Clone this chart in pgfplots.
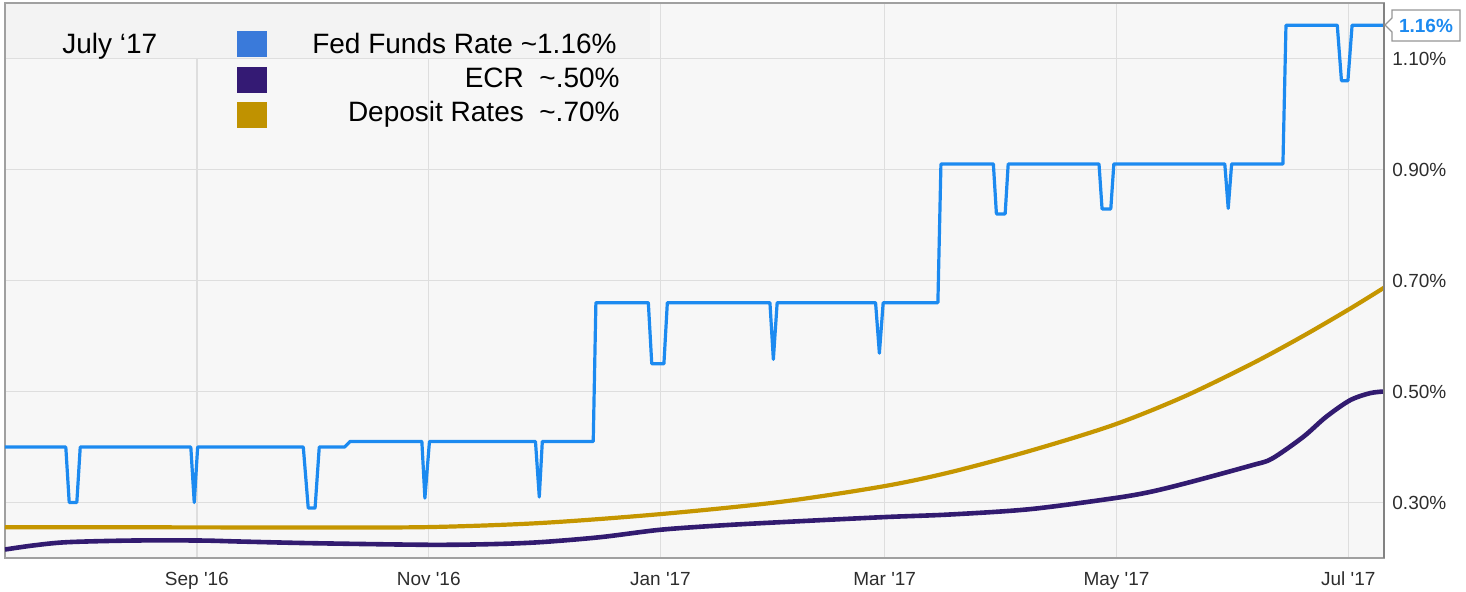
\documentclass[border=0pt]{standalone}
\usepackage{fontspec}
\setmainfont{Liberation Sans}
\usepackage{pgfplots}
\pgfplotsset{compat=1.18}
\definecolor{fedline}{RGB}{28,138,240}
\definecolor{ecrline}{RGB}{50,27,112}
\definecolor{depline}{RGB}{197,150,0}
\definecolor{fedsq}{RGB}{58,122,218}
\definecolor{ecrsq}{RGB}{52,26,116}
\definecolor{depsq}{RGB}{192,146,0}
\definecolor{plotbg}{RGB}{247,247,247}
\definecolor{legbg}{RGB}{243,243,243}
\definecolor{gridc}{RGB}{222,222,222}
\definecolor{axc}{RGB}{160,160,160}
\definecolor{axr}{RGB}{130,130,130}
\definecolor{boxc}{RGB}{150,150,150}
\definecolor{labc}{RGB}{45,45,45}
\begin{document}
\begin{tikzpicture}[x=1pt,y=1pt]
\begin{axis}[
  at={(0,0)}, anchor=south west,
  scale only axis, width=689.5pt, height=277.5pt,
  xmin=-50.5, xmax=312.4, ymin=0.2, ymax=1.2,
  axis background/.style={fill=plotbg},
  axis line style={draw=axc, line width=0.7pt},
  xtick={0,61,122,181,242,303},
  xticklabels={Sep \textquotesingle16, Nov \textquotesingle16, Jan \textquotesingle17, Mar \textquotesingle17, May \textquotesingle17, Jul \textquotesingle17},
  ytick={0.3,0.5,0.7,0.9,1.1},
  yticklabels={0.30\%,0.50\%,0.70\%,0.90\%,1.10\%},
  yticklabel pos=right,
  major tick length=0pt,
  tick style={draw=none},
  grid=major,
  grid style={draw=gridc, line width=0.75pt},
  ticklabel style={font=\fontsize{9.5}{11}\selectfont, text=labc},
  yticklabel style={anchor=west, inner sep=0pt, xshift=4pt},
  xticklabel style={anchor=base, inner sep=0pt, yshift=-13.5pt},
  clip=true,
]
% Deposit rates
\addplot[depline, line width=2.1pt, smooth, tension=0.5] coordinates {
(-50.5,0.2555) (0.3,0.2552) (30.0,0.2550) (60.8,0.2557) (90.3,0.263) (121.8,0.279)
(153.4,0.301) (180.5,0.329) (198.2,0.3545) (219.2,0.393) (241.1,0.4395)
(259.5,0.490) (277.6,0.550) (291.1,0.600) (303.4,0.649) (312.4,0.687)
};
% ECR
\addplot[ecrline, line width=2.3pt, smooth, tension=0.5] coordinates {
(-50.5,0.2153) (-43.2,0.2225) (-34.2,0.2285) (-16.8,0.2315) (0.8,0.2315) (11.3,0.2297)
(30.3,0.2267) (60.8,0.2238) (77.4,0.225) (90.3,0.2285) (106.1,0.2375) (121.8,0.2508)
(137.6,0.2586) (153.4,0.2645) (180.5,0.2736) (198.2,0.2784) (219.2,0.2880) (241.1,0.3075)
(250.8,0.319) (261.3,0.3366) (277.6,0.367) (282.9,0.379) (291.1,0.418) (297.1,0.454)
(303.4,0.484) (308.7,0.497) (312.4,0.500)
};
% Fed funds
\addplot[fedline, line width=1.6pt, line join=round] coordinates {
(-50.5,0.40) (-34.5,0.40) (-33.6,0.30) (-31.6,0.30) (-30.7,0.40)
(-1.6,0.40) (-0.7,0.30) (0.2,0.40)
(28.0,0.40) (29.3,0.29) (31.1,0.29) (32.2,0.40)
(38.9,0.40) (40.3,0.41)
(59.2,0.41) (60.0,0.308) (61.2,0.41)
(89.1,0.41) (90.1,0.31) (90.9,0.41)
(104.3,0.41) (105.0,0.66)
(118.8,0.66) (119.7,0.55) (122.9,0.55) (123.8,0.66)
(150.8,0.66) (151.7,0.558) (152.7,0.66)
(178.6,0.66) (179.6,0.569) (180.6,0.66)
(195.0,0.66) (195.8,0.91)
(209.6,0.91) (210.4,0.82) (212.7,0.82) (213.5,0.91)
(237.4,0.91) (238.2,0.829) (240.5,0.829) (241.3,0.91)
(270.5,0.91) (271.4,0.83) (272.3,0.91)
(285.8,0.91) (286.6,1.16)
(300.1,1.16) (301.2,1.06) (302.9,1.06) (304.0,1.16)
(312.4,1.16)
};
\end{axis}
% right axis line
\draw[color=axr, line width=0.8pt] (689.5,0) -- (689.5,277.5);
% legend box
\fill[legbg] (0.4,250.2) rectangle (322.5,277.1);
\fill[fedsq] (116,250.5) rectangle (131,263.5);
\fill[ecrsq] (116,232.5) rectangle (131,245.5);
\fill[depsq] (116,215) rectangle (131,228);
\node[anchor=base west, inner sep=0pt, font=\fontsize{14}{16}\selectfont] at (28.5,252.5) {July ‘17};
\node[anchor=base east, inner sep=0pt, font=\fontsize{14}{16}\selectfont] at (306,252.5) {Fed Funds Rate \textasciitilde1.16\%};
\node[anchor=base east, inner sep=0pt, font=\fontsize{14}{16}\selectfont] at (307.5,235.5) {ECR\ \ \textasciitilde.50\%};
\node[anchor=base east, inner sep=0pt, font=\fontsize{14}{16}\selectfont] at (307.5,218.5) {Deposit Rates\ \ \textasciitilde.70\%};
% callout
\draw[fill=white, draw=boxc, line width=0.6pt] (690,266.5) -- (693.5,270) -- (693.5,274) -- (727.5,274) -- (727.5,258.5) -- (693.5,258.5) -- (693.5,263) -- cycle;
\node[anchor=center, inner sep=0pt, font=\fontsize{9.5}{11}\selectfont\bfseries, text=fedline] at (710.5,266) {1.16\%};
\path[use as bounding box] (-2.5,-16.5) rectangle (730.5,279);
\end{tikzpicture}
\end{document}
